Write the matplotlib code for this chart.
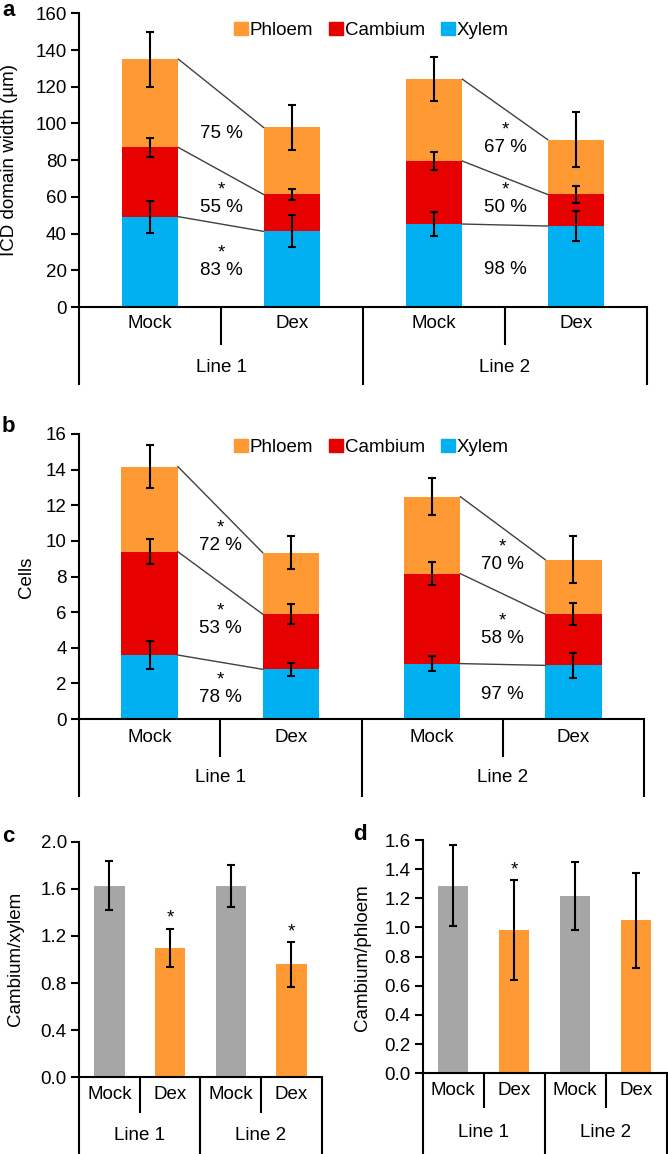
import matplotlib
matplotlib.use("Agg")
import matplotlib.pyplot as plt
import numpy as np
from matplotlib.patches import Patch
from matplotlib.transforms import offset_copy

plt.rcParams['font.family'] = ['Liberation Sans', 'DejaVu Sans']
FS = 13.5
plt.rcParams['font.size'] = FS

# ---------------- data ----------------
categories = ["Mock", "Dex", "Mock", "Dex"]
lines_lab = ["Line 1", "Line 2"]

# panel a: ICD domain width (um), stacked segment heights
a_xylem = [49.2, 41.2, 45.2, 44.1]
a_cambium = [37.7, 20.1, 34.3, 17.2]
a_phloem = [48.1, 36.5, 44.6, 29.9]
a_xylem_err = [8.8, 8.7, 6.4, 8.3]
a_cambium_err = [5.4, 3.2, 5.0, 4.8]
a_phloem_err = [15.0, 12.0, 12.0, 14.8]
a_pct_line1 = ["75 %", "55 %", "83 %"]
a_star_line1 = [False, True, True]
a_pct_line2 = ["67 %", "50 %", "98 %"]
a_star_line2 = [True, True, False]
a_pct_y_line1 = [94.7, 54.4, 20.1]
a_pct_y_line2 = [87.0, 54.4, 20.7]

# panel b: cells
b_xylem = [3.59, 2.79, 3.11, 3.01]
b_cambium = [5.80, 3.10, 5.05, 2.88]
b_phloem = [4.78, 3.45, 4.32, 3.06]
b_xylem_err = [0.78, 0.38, 0.42, 0.69]
b_cambium_err = [0.71, 0.54, 0.65, 0.60]
b_phloem_err = [1.20, 0.93, 1.04, 1.30]
b_pct_line1 = ["72 %", "53 %", "78 %"]
b_star_line1 = [True, True, True]
b_pct_line2 = ["70 %", "58 %", "97 %"]
b_star_line2 = [True, True, False]
b_pct_y_line1 = [9.73, 5.09, 1.22]
b_pct_y_line2 = [8.68, 4.53, 1.35]

# panel c: cambium/xylem
c_vals = [1.627, 1.098, 1.624, 0.959]
c_err = [0.21, 0.164, 0.18, 0.19]
c_star = [False, True, False, True]

# panel d: cambium/phloem
d_vals = [1.287, 0.981, 1.216, 1.049]
d_err = [0.28, 0.344, 0.23, 0.326]
d_star = [False, True, False, False]

# ---------------- style ----------------
ORANGE = "#FF9933"
RED = "#E60000"
BLUE = "#00B0F0"
GREY = "#A6A6A6"
W, H = 668, 1154
fig = plt.figure(figsize=(W / 100, H / 100), dpi=100)


def add_axes_px(L, R, T, B):
    return fig.add_axes([L / W, 1 - B / H, (R - L) / W, (B - T) / H])


def style_axes(ax, ymax, step, fmt=None):
    ax.set_xlim(0, 4)
    ax.set_ylim(0, ymax)
    ticks = np.arange(0, ymax + step / 2, step)
    ax.set_yticks(ticks)
    if fmt:
        ax.set_yticklabels([fmt % v for v in ticks])
    ax.set_xticks([])
    for s in ["top", "right"]:
        ax.spines[s].set_visible(False)
    for s in ["left", "bottom"]:
        ax.spines[s].set_linewidth(1.5)
        ax.spines[s].set_color("black")
    ax.tick_params(axis="y", direction="out", length=5.8, width=1.5,
                   labelsize=FS, pad=3.0)


def draw_groups(ax, axh, short_px, long_px, cat_px, line_px):
    tr = ax.get_xaxis_transform()
    for x in [1, 3]:
        ax.plot([x, x], [0, -short_px / axh], transform=tr, color="black",
                lw=1.5, clip_on=False, solid_capstyle="butt")
    for x in [0, 2, 4]:
        ax.plot([x, x], [0, -long_px / axh], transform=tr, color="black",
                lw=1.5, clip_on=False, solid_capstyle="butt")
    for i, c in enumerate(categories):
        ax.text(i + 0.5, -cat_px / axh, c, transform=tr, ha="center",
                va="center", fontsize=FS)
    for j, l in enumerate(lines_lab):
        ax.text(2 * j + 1, -line_px / axh, l, transform=tr, ha="center",
                va="center", fontsize=FS)


def stacked(ax, xy, ca, ph, xe, ce, pe, pcts1, stars1, py1, pcts2, stars2, py2,
            legend_y_frac, legend_x_frac):
    x = np.arange(4) + 0.5
    bw = 0.4
    xy = np.array(xy); ca = np.array(ca); ph = np.array(ph)
    ax.bar(x, xy, bw, color=BLUE, zorder=2)
    ax.bar(x, ca, bw, bottom=xy, color=RED, zorder=2)
    ax.bar(x, ph, bw, bottom=xy + ca, color=ORANGE, zorder=2)
    tops = [xy, xy + ca, xy + ca + ph]
    errs = [xe, ce, pe]
    for t, e in zip(tops, errs):
        ax.errorbar(x, t, yerr=e, fmt="none", ecolor="black", elinewidth=1.5,
                    capsize=3, capthick=1.5, zorder=4)
    for g in [0, 2]:
        for t in tops:
            ax.plot([x[g] + bw / 2, x[g + 1] - bw / 2], [t[g], t[g + 1]],
                    color="#404040", lw=1.0, zorder=3)
    tr = offset_copy(ax.transData, fig=fig, x=0, y=12.5, units="points")
    for gx, pcts, stars, pys in [(1, pcts1, stars1, py1), (3, pcts2, stars2, py2)]:
        for p, s, py in zip(pcts, stars, pys):
            ax.text(gx, py, p, ha="center", va="center", fontsize=FS)
            if s:
                ax.text(gx, py, "*", ha="center", va="center", fontsize=FS,
                        transform=tr)
    handles = [Patch(color=ORANGE, label="Phloem"),
               Patch(color=RED, label="Cambium"),
               Patch(color=BLUE, label="Xylem")]
    ax.legend(handles=handles, loc="center",
              bbox_to_anchor=(legend_x_frac, legend_y_frac), ncol=3,
              frameon=False, fontsize=FS, handlelength=0.72, handleheight=0.72,
              handletextpad=0.12, columnspacing=0.85, borderpad=0,
              borderaxespad=0)


# ---------------- panel a ----------------
La, Ra, Ta, Ba = 79, 647, 13.3, 307
axa = add_axes_px(La, Ra, Ta, Ba)
style_axes(axa, 160, 20)
stacked(axa, a_xylem, a_cambium, a_phloem, a_xylem_err, a_cambium_err,
        a_phloem_err, a_pct_line1, a_star_line1, a_pct_y_line1,
        a_pct_line2, a_star_line2, a_pct_y_line2,
        1 - (30.7 - Ta) / (Ba - Ta), (371.5 - La) / (Ra - La))
draw_groups(axa, Ba - Ta, 38, 78, 16, 60)
fig.text(10 / W, 1 - 160 / H, "ICD domain width (\u00b5m)", rotation=90,
         ha="center", va="center", fontsize=FS)
fig.text(2 / W, 1 - 10 / H, "a", fontsize=16, fontweight="bold", ha="left",
         va="center")

# ---------------- panel b ----------------
Lb, Rb, Tb, Bb = 79, 644, 434, 719
axb = add_axes_px(Lb, Rb, Tb, Bb)
style_axes(axb, 16, 2)
stacked(axb, b_xylem, b_cambium, b_phloem, b_xylem_err, b_cambium_err,
        b_phloem_err, b_pct_line1, b_star_line1, b_pct_y_line1,
        b_pct_line2, b_star_line2, b_pct_y_line2,
        1 - (447.7 - Tb) / (Bb - Tb), (371.5 - Lb) / (Rb - Lb))
draw_groups(axb, Bb - Tb, 38, 78, 18, 58)
fig.text(27 / W, 1 - 577 / H, "Cells", rotation=90, ha="center", va="center",
         fontsize=FS)
fig.text(2 / W, 1 - 427 / H, "b", fontsize=16, fontweight="bold", ha="left",
         va="center")


# ---------------- panels c, d ----------------
def simple(ax, vals, err, stars):
    x = np.arange(4) + 0.5
    cols = [GREY, ORANGE, GREY, ORANGE]
    ax.bar(x, vals, 0.5, color=cols, zorder=2)
    ax.errorbar(x, vals, yerr=err, fmt="none", ecolor="black", elinewidth=1.5,
                capsize=3, capthick=1.5, zorder=4)
    tr = offset_copy(ax.transData, fig=fig, x=0, y=7.5, units="points")
    for xi, v, e, s in zip(x, vals, err, stars):
        if s:
            ax.text(xi, v + e, "*", ha="center", va="center", fontsize=FS,
                    transform=tr)


Lc, Rc, Tc, Bc = 79, 321.7, 841.7, 1077.3
axc = add_axes_px(Lc, Rc, Tc, Bc)
style_axes(axc, 2.0, 0.4, "%.1f")
simple(axc, c_vals, c_err, c_star)
draw_groups(axc, Bc - Tc, 36, 80, 17, 58)
fig.text(16 / W, 1 - 958.5 / H, "Cambium/xylem", rotation=90, ha="center",
         va="center", fontsize=FS)
fig.text(2 / W, 1 - 837 / H, "c", fontsize=16, fontweight="bold", ha="left",
         va="center")

Ld, Rd, Td, Bd = 422.7, 666.5, 840, 1073.3
axd = add_axes_px(Ld, Rd, Td, Bd)
style_axes(axd, 1.6, 0.2, "%.1f")
simple(axd, d_vals, d_err, d_star)
draw_groups(axd, Bd - Td, 35, 82, 17, 59)
fig.text(363 / W, 1 - 958 / H, "Cambium/phloem", rotation=90, ha="center",
         va="center", fontsize=FS)
fig.text(353 / W, 1 - 834 / H, "d", fontsize=16, fontweight="bold", ha="left",
         va="center")

fig.savefig("out.png", dpi=100)
